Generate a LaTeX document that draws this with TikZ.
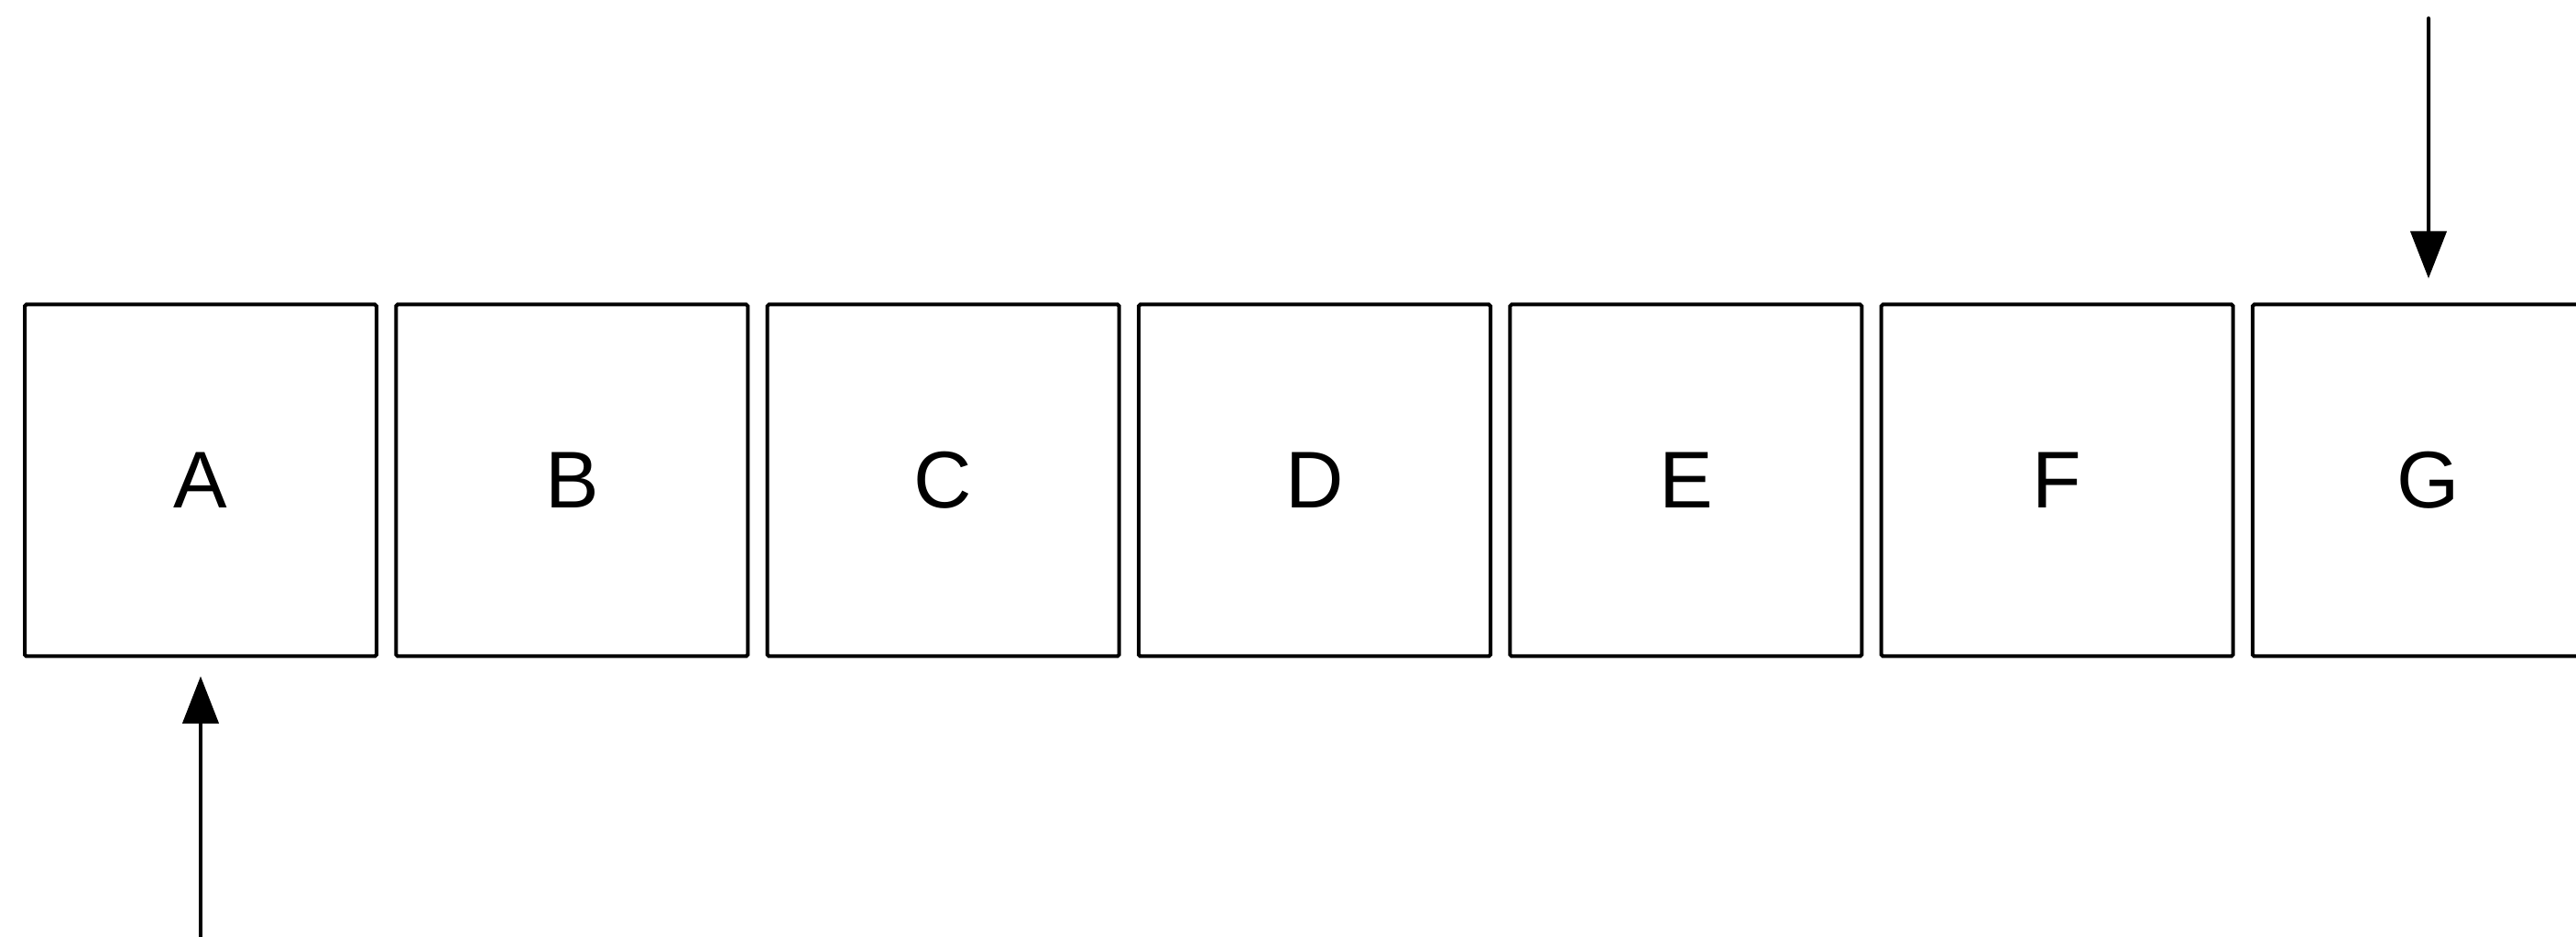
\documentclass[tikz,border=0pt]{standalone}
\usepackage{fontspec}
\setmainfont{Liberation Sans}
\usetikzlibrary{arrows.meta,positioning}

\begin{document}
\begin{tikzpicture}[
			node distance=0.2133cm,
			cell/.style={
				rectangle,
				rounded corners=0.5pt,
				draw=black,
				line width=0.04cm,
				minimum width=3.84cm,
				minimum height=3.84cm,
				inner sep=0pt,
				outer sep=0pt,
				font=\fontsize{25}{30}\selectfont
			},
			arrow/.style={
				-{Triangle[length=0.515cm,width=0.39cm]},
				line width=0.04cm,
				line cap=round,
				draw=black
			}
			]
			\useasboundingbox (0,0) rectangle (28.12,10.23);
			
			% 方块
			\node[cell] (a) at (2.19,4.985) {A};
			\node[cell, right=of a] (b) {B};
			\node[cell, right=of b] (c) {C};
			\node[cell, right=of c] (d) {D};
			\node[cell, right=of d] (e) {E};
			\node[cell, right=of e] (f) {F};
			\node[cell, right=of f] (g) {G};
			
			% 箭头
			\coordinate (gsrc) at (26.51,10.03);
			\coordinate (asrc) at (2.19,-0.2);
			\draw[arrow, shorten >=0.285cm] (gsrc) -- (g);
			\draw[arrow, shorten >=0.218cm] (asrc) -- (a);
		\end{tikzpicture}
\end{document}
